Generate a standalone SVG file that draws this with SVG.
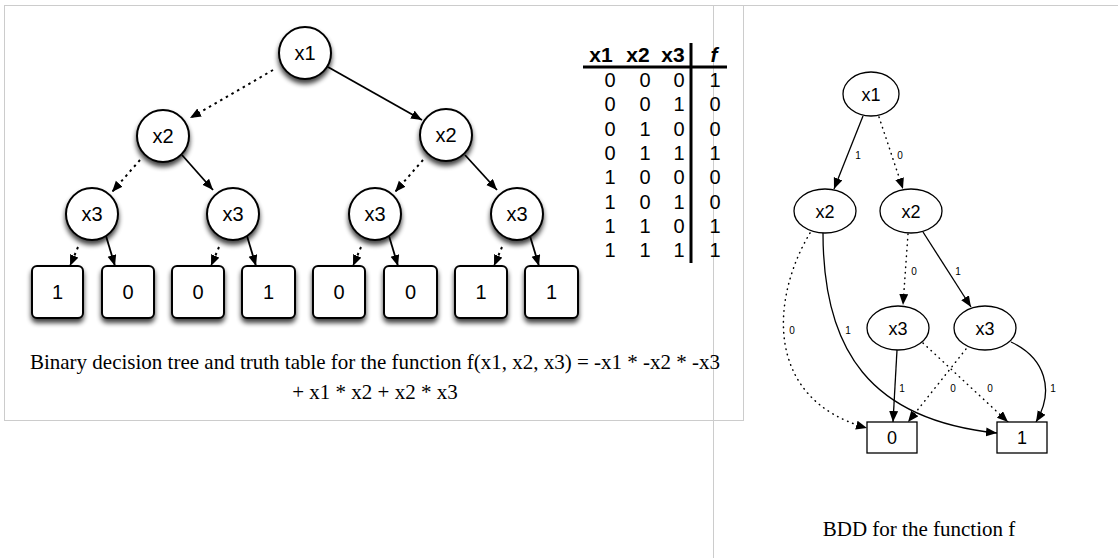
<svg xmlns="http://www.w3.org/2000/svg" width="1118" height="558" viewBox="0 0 1118 558">
<style>
.frame{fill:none;stroke:#cccccc;stroke-width:1}
.tnode{fill:#fff;stroke:#000;stroke-width:2}
.tlabel{font-family:"Liberation Sans",Arial,sans-serif;font-size:20px;text-anchor:middle}
.te{fill:none;stroke:#000;stroke-width:1.8}
.td{fill:none;stroke:#000;stroke-width:2;stroke-dasharray:2.5 4}
.bnode{fill:#fff;stroke:#000;stroke-width:1.3}
.blabel{font-family:"Liberation Sans",Arial,sans-serif;font-size:18px;text-anchor:middle}
.be{fill:none;stroke:#000;stroke-width:1.3}
.bd{fill:none;stroke:#000;stroke-width:1.5;stroke-dasharray:0.5 5;stroke-linecap:round}
.el{font-family:"Liberation Sans",Arial,sans-serif;font-size:10px;text-anchor:middle}
.cap{font-family:"Liberation Serif","Times New Roman",serif;font-size:21px;text-anchor:middle}
.th{font-family:"Liberation Sans",Arial,sans-serif;font-size:21px;font-weight:bold;text-anchor:middle}
.tv{font-family:"Liberation Sans",Arial,sans-serif;font-size:20px;text-anchor:middle}
</style>
<defs>
<filter id="sh" x="-30%" y="-30%" width="160%" height="170%">
<feGaussianBlur in="SourceAlpha" stdDeviation="2.5"/>
<feOffset dx="0" dy="4" result="o"/>
<feComponentTransfer><feFuncA type="linear" slope="0.75"/></feComponentTransfer>
<feMerge><feMergeNode/><feMergeNode in="SourceGraphic"/></feMerge>
</filter>
<marker id="ta" markerUnits="userSpaceOnUse" markerWidth="12" markerHeight="10" refX="11" refY="4.5" orient="auto"><path d="M0,0 L11,4.5 L0,9 z" fill="#000"/></marker>
<marker id="ba" markerUnits="userSpaceOnUse" markerWidth="12" markerHeight="10" refX="11" refY="4.5" orient="auto"><path d="M0,0 L11,4.5 L0,9 z" fill="#000"/></marker>
</defs>
<rect class="frame" x="4.5" y="5.5" width="739" height="415"/>
<rect class="frame" x="713.5" y="5.5" width="440" height="600"/>

<g id="tree-edges">
<line class="td" x1="273" y1="70" x2="190" y2="118" marker-end="url(#ta)"/>
<line class="te" x1="328" y1="67" x2="422" y2="120" marker-end="url(#ta)"/>
<line class="td" x1="140" y1="160" x2="112" y2="192" marker-end="url(#ta)"/>
<line class="te" x1="182" y1="155" x2="213" y2="190" marker-end="url(#ta)"/>
<line class="td" x1="423" y1="160" x2="395" y2="192" marker-end="url(#ta)"/>
<line class="te" x1="465" y1="155" x2="497" y2="190" marker-end="url(#ta)"/>
<line class="td" x1="78" y1="247" x2="70" y2="266" marker-end="url(#ta)"/>
<line class="te" x1="106" y1="236" x2="115" y2="266" marker-end="url(#ta)"/>
<line class="td" x1="219" y1="247" x2="211" y2="266" marker-end="url(#ta)"/>
<line class="te" x1="247" y1="236" x2="256" y2="266" marker-end="url(#ta)"/>
<line class="td" x1="361" y1="247" x2="353" y2="266" marker-end="url(#ta)"/>
<line class="te" x1="389" y1="236" x2="398" y2="266" marker-end="url(#ta)"/>
<line class="td" x1="502" y1="247" x2="494" y2="266" marker-end="url(#ta)"/>
<line class="te" x1="530" y1="236" x2="539" y2="266" marker-end="url(#ta)"/>
</g>

<g id="t-x1"><circle class="tnode" filter="url(#sh)" cx="305" cy="53" r="26"/><text class="tlabel" x="305" y="60">x1</text></g>
<g id="t-x2a"><circle class="tnode" filter="url(#sh)" cx="163" cy="136" r="26"/><text class="tlabel" x="163" y="143">x2</text></g>
<g id="t-x2b"><circle class="tnode" filter="url(#sh)" cx="446" cy="135" r="26"/><text class="tlabel" x="446" y="142">x2</text></g>
<g id="t-x3a"><circle class="tnode" filter="url(#sh)" cx="92" cy="214" r="26"/><text class="tlabel" x="92" y="221">x3</text></g>
<g id="t-x3b"><circle class="tnode" filter="url(#sh)" cx="233" cy="214" r="26"/><text class="tlabel" x="233" y="221">x3</text></g>
<g id="t-x3c"><circle class="tnode" filter="url(#sh)" cx="375" cy="214" r="26"/><text class="tlabel" x="375" y="221">x3</text></g>
<g id="t-x3d"><circle class="tnode" filter="url(#sh)" cx="517" cy="214" r="26"/><text class="tlabel" x="517" y="221">x3</text></g>

<g id="leaf1"><rect class="tnode" filter="url(#sh)" x="32" y="266" width="51" height="52" rx="5"/><text class="tlabel" x="57.5" y="299">1</text></g>
<g id="leaf2"><rect class="tnode" filter="url(#sh)" x="102" y="266" width="52" height="52" rx="5"/><text class="tlabel" x="128" y="299">0</text></g>
<g id="leaf3"><rect class="tnode" filter="url(#sh)" x="172" y="266" width="52" height="52" rx="5"/><text class="tlabel" x="198" y="299">0</text></g>
<g id="leaf4"><rect class="tnode" filter="url(#sh)" x="242" y="266" width="53" height="52" rx="5"/><text class="tlabel" x="268.5" y="299">1</text></g>
<g id="leaf5"><rect class="tnode" filter="url(#sh)" x="313" y="266" width="52" height="52" rx="5"/><text class="tlabel" x="339" y="299">0</text></g>
<g id="leaf6"><rect class="tnode" filter="url(#sh)" x="384" y="266" width="53" height="52" rx="5"/><text class="tlabel" x="410.5" y="299">0</text></g>
<g id="leaf7"><rect class="tnode" filter="url(#sh)" x="455" y="266" width="52" height="52" rx="5"/><text class="tlabel" x="481" y="299">1</text></g>
<g id="leaf8"><rect class="tnode" filter="url(#sh)" x="525" y="266" width="53" height="52" rx="5"/><text class="tlabel" x="551.5" y="299">1</text></g>

<g id="truth-table">
<text class="th" x="601" y="62">x1</text>
<text class="th" x="638" y="62">x2</text>
<text class="th" x="673" y="62">x3</text>
<text class="th" x="714" y="62" font-style="italic">f</text>
<line x1="583" y1="67" x2="727" y2="67" stroke="#000" stroke-width="3"/>
<line x1="691" y1="43" x2="691" y2="263" stroke="#000" stroke-width="3"/>
<g class="tv">
<text x="610" y="87">0</text><text x="645" y="87">0</text><text x="679" y="87">0</text><text x="715" y="87">1</text>
<text x="610" y="111">0</text><text x="645" y="111">0</text><text x="679" y="111">1</text><text x="715" y="111">0</text>
<text x="610" y="136">0</text><text x="645" y="136">1</text><text x="679" y="136">0</text><text x="715" y="136">0</text>
<text x="610" y="160">0</text><text x="645" y="160">1</text><text x="679" y="160">1</text><text x="715" y="160">1</text>
<text x="610" y="184">1</text><text x="645" y="184">0</text><text x="679" y="184">0</text><text x="715" y="184">0</text>
<text x="610" y="209">1</text><text x="645" y="209">0</text><text x="679" y="209">1</text><text x="715" y="209">0</text>
<text x="610" y="233">1</text><text x="645" y="233">1</text><text x="679" y="233">0</text><text x="715" y="233">1</text>
<text x="610" y="257">1</text><text x="645" y="257">1</text><text x="679" y="257">1</text><text x="715" y="257">1</text>
</g>
</g>

<text class="cap" x="375" y="369">Binary decision tree and truth table for the function f(x1, x2, x3) = -x1 * -x2 * -x3</text>
<text class="cap" x="375" y="399">+ x1 * x2 + x2 * x3</text>

<g id="bdd-edges">
<line class="be" x1="863" y1="116" x2="834" y2="189" marker-end="url(#ba)"/>
<line class="bd" x1="879" y1="117" x2="903" y2="189" marker-end="url(#ba)"/>
<line class="bd" x1="908" y1="234" x2="903" y2="305" marker-end="url(#ba)"/>
<line class="be" x1="923" y1="232" x2="971" y2="307" marker-end="url(#ba)"/>
<path class="bd" d="M810,233 C770,300 765,400 867,428" marker-end="url(#ba)"/>
<path class="be" d="M823,233 C823,350 870,420 997,433" marker-end="url(#ba)"/>
<line class="be" x1="897" y1="350" x2="893" y2="422" marker-end="url(#ba)"/>
<line class="bd" x1="923" y1="343" x2="1008" y2="422" marker-end="url(#ba)"/>
<line class="bd" x1="966" y1="349" x2="908" y2="422" marker-end="url(#ba)"/>
<path class="be" d="M1011,342 C1045,358 1055,390 1036,422" marker-end="url(#ba)"/>
<g class="el">
<text x="858" y="159">1</text><text x="900" y="159">0</text>
<text x="914" y="275">0</text><text x="958" y="275">1</text>
<text x="792" y="334">0</text><text x="848" y="334">1</text>
<text x="902" y="392">1</text><text x="953" y="392">0</text><text x="990" y="392">0</text><text x="1053" y="392">1</text>
</g>
</g>

<g id="b-x1"><ellipse class="bnode" cx="871" cy="94" rx="28" ry="22"/><text class="blabel" x="871" y="100.5">x1</text></g>
<g id="b-x2a"><ellipse class="bnode" cx="825" cy="211" rx="31" ry="22"/><text class="blabel" x="825" y="217.5">x2</text></g>
<g id="b-x2b"><ellipse class="bnode" cx="911" cy="211" rx="31" ry="22"/><text class="blabel" x="911" y="217.5">x2</text></g>
<g id="b-x3a"><ellipse class="bnode" cx="898" cy="328" rx="31" ry="22"/><text class="blabel" x="898" y="334.5">x3</text></g>
<g id="b-x3b"><ellipse class="bnode" cx="985" cy="328" rx="31" ry="22"/><text class="blabel" x="985" y="334.5">x3</text></g>
<g id="b-0"><rect class="bnode" x="867" y="422" width="50" height="31"/><text class="blabel" x="892" y="444">0</text></g>
<g id="b-1"><rect class="bnode" x="997" y="422" width="50" height="31"/><text class="blabel" x="1022" y="444">1</text></g>

<text class="cap" x="919" y="536">BDD for the function f</text>
</svg>
